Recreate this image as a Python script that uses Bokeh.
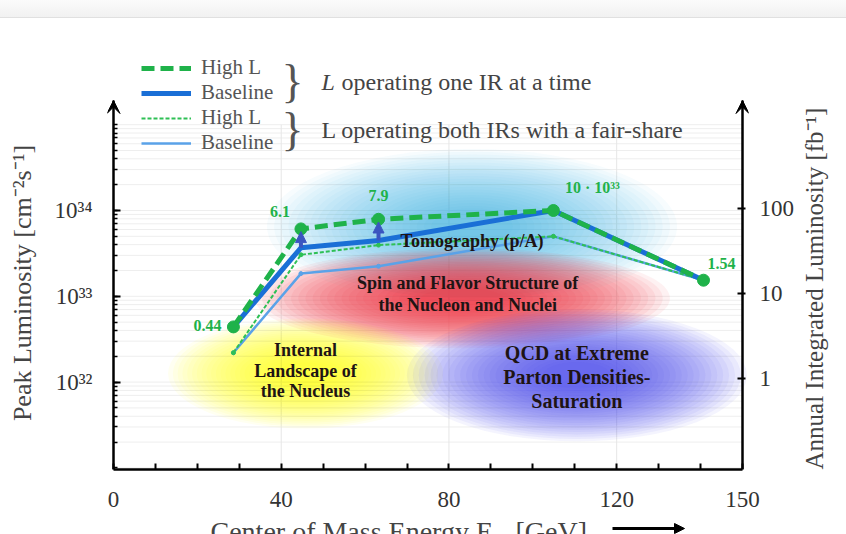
import math
from bokeh.plotting import figure
from bokeh.layouts import column
from bokeh.models import (Range1d, LogScale, LogAxis, FixedTicker, Arrow, VeeHead,
                          NormalHead, Label, LabelSet, Legend, LegendItem, Div,
                          CustomJSTickFormatter, ColumnDataSource)
from bokeh.embed import file_html
from bokeh.resources import INLINE

# ------------------------------------------------------------------ data
energy_gev = [28.6, 44.7, 63.2, 104.9, 140.7]
high_lumi_one_ir = [0.44e33, 6.1e33, 7.9e33, 10.0e33, 1.54e33]
base_lumi_one_ir = [0.44e33, 3.68e33, 4.48e33, 10.0e33, 1.54e33]
high_lumi_fair = [0.22e33, 3.05e33, 3.95e33, 5.0e33, 1.54e33]
base_lumi_fair = [0.22e33, 1.84e33, 2.24e33, 5.0e33, 1.54e33]
value_labels = ["0.44", "6.1", "7.9", "10 · 10³³", "1.54"]
value_label_dx = [-26, -21, 0, 39, 18]
value_label_dy = [1, 17, 24, 23, 17]
arrow_points = [1, 2]  # baseline -> high L arrows

x_tick_values = list(range(0, 151, 10))
x_tick_labels = [0, 40, 80, 120, 150]
x_grid_values = [40, 80, 120]
y_left_major = [1e32, 1e33, 1e34]
y_right_major = [1, 10, 100]

region_lines = [
    ["Tomography (p/A)"],
    ["Spin and Flavor Structure of", "the Nucleon and Nuclei"],
    ["Internal", "Landscape of", "the Nucleus"],
    ["QCD at Extreme", "Parton Densities-", "Saturation"],
]
region_x = [85.5, 83.2, 45.8, 110.5]
region_text_x = [85.5, 84.5, 45.8, 110.5]
region_y = [6.5e33, 0.95e33, 1.26e32, 1.2e32]
region_text_y = [4.4e33, 1.07e33, 1.36e32, 1.16e32]
region_w = [410, 415, 275, 340]
region_h = [155, 100, 110, 132]
region_colors = ["#19a8e6", "#ea3440", "#ffff10", "#3c3ce6"]
region_alpha = [0.034, 0.066, 0.06, 0.06]
region_font = ["18px", "18px", "18px", "20px"]
region_line_gap = [22, 22, 20.5, 24]

legend_labels = ["High L", "Baseline", "High L", "Baseline"]
group_labels = ["operating one IR at a time", "L operating both IRs with a fair-share"]
left_title = "Peak Luminosity [cm⁻²s⁻¹]"
right_title = "Annual Integrated Luminosity [fb⁻¹]"

# ------------------------------------------------------------------ geometry (page pixels)
PAGE_W = 846
TOP_BAR = 18
H_MAIN = 500
H_TITLE = 16
AX_L, AX_R = 113, 742          # page x of x = 0 and x = 150
FR_L, FR_R = 107, 748          # frame edges
FR_T, FR_B = TOP_BAR, 469      # frame top / bottom
PX_PER_GEV = (AX_R - AX_L) / 150.0
X_MIN = (FR_L - AX_L) / PX_PER_GEV
X_MAX = 150 + (FR_R - AX_R) / PX_PER_GEV
DEC_L, Y34 = 85.8, 210.0       # left: px per decade, page y of 1e34
DEC_R, Y100 = 85.0, 207.7      # right: px per decade, page y of 100
LOG_TOP = 34 + (Y34 - FR_T) / DEC_L
LOG_BOT = 34 - (FR_B - Y34) / DEC_L
R_LOG_TOP = 2 + (Y100 - FR_T) / DEC_R
R_LOG_BOT = 2 - (FR_B - Y100) / DEC_R
AXIS_TOP = 100                 # page y of the axis arrow tips


def dx(px):
    return (px - AX_L) / PX_PER_GEV


def dy(py):
    return 10 ** (LOG_TOP - (py - FR_T) / (FR_B - FR_T) * (LOG_TOP - LOG_BOT))


def dy_right(py):
    return 10 ** (2 + (Y100 - py) / DEC_R)


SERIF = "Liberation Serif"
GREEN = "#1fb24a"
BLUE = "#1a6fd6"
LBLUE = "#5aa2e8"
LGREEN = "#2ec055"
TXT = "#444444"
NBSP = "\u00a0"
SUP_JS = """
const sup = {'0':'⁰','1':'¹','2':'²','3':'³','4':'⁴','5':'⁵','6':'⁶','7':'⁷','8':'⁸','9':'⁹','-':'⁻'};
const e = Math.round(Math.log10(tick));
return '10' + String(e).split('').map(c => sup[c]).join('');
"""

p = figure(width=PAGE_W, height=H_MAIN, output_backend="svg", toolbar_location=None,
           title=None,
           x_range=Range1d(X_MIN, X_MAX),
           y_range=Range1d(10 ** LOG_BOT, 10 ** LOG_TOP), y_axis_type="log",
           min_border_left=FR_L, min_border_right=PAGE_W - FR_R,
           min_border_top=0, min_border_bottom=TOP_BAR + H_MAIN - FR_B)
p.outline_line_color = None
p.background_fill_color = "white"
p.border_fill_color = "white"
p.grid.visible = False

# grid lines (faint), limited to the drawn axis height like the reference
minor_y = [k * 10.0 ** e for e in range(31, 35) for k in range(1, 10)] + [1e35]
p.segment(x0=[0] * len(minor_y), y0=minor_y, x1=[150] * len(minor_y), y1=minor_y,
          line_color="#eeeeee", line_width=1)
p.segment(x0=x_grid_values, y0=[10 ** LOG_BOT] * 3, x1=x_grid_values, y1=[1e35] * 3,
          line_color="#e6e6e6", line_width=1)

# x axis
xa = p.xaxis[0]
xa.ticker = FixedTicker(ticks=x_tick_values)
xa.formatter = CustomJSTickFormatter(args=dict(show=x_tick_labels),
                                     code="return show.includes(tick) ? String(tick) : '';")
xa.bounds = (0, 150)
xa.axis_line_width = 2.5
xa.major_tick_in = 6
xa.major_tick_out = 0
xa.major_tick_line_width = 2
xa.major_label_text_font = SERIF
xa.major_label_text_font_size = "23px"
xa.major_label_text_color = "#333333"
xa.major_label_standoff = 22


def style_line_axis(ax):
    """axis drawn at a data location: line and ticks only"""
    ax.axis_line_width = 2.5
    ax.major_tick_line_width = 2
    ax.minor_tick_line_width = 1.5
    ax.major_label_text_font_size = "0px"
    ax.major_label_standoff = 0
    ax.axis_label = None


def style_label_axis(ax, standoff, label, label_standoff, font_size):
    """axis at the frame edge: tick labels and title only"""
    ax.axis_line_color = None
    ax.major_tick_line_color = None
    ax.minor_tick_line_color = None
    ax.major_tick_in = 0
    ax.major_tick_out = 0
    ax.minor_tick_in = 0
    ax.minor_tick_out = 0
    ax.major_label_text_font = SERIF
    ax.major_label_text_font_size = "23px"
    ax.major_label_text_color = "#333333"
    ax.major_label_standoff = standoff
    ax.axis_label = label
    ax.axis_label_text_font = SERIF
    ax.axis_label_text_font_size = font_size
    ax.axis_label_text_font_style = "normal"
    ax.axis_label_text_color = TXT
    ax.axis_label_standoff = label_standoff


# left: line/ticks axis at x = 0, then a label axis outside it
ya = p.yaxis[0]
ya.ticker = FixedTicker(ticks=y_left_major, minor_ticks=minor_y)
ya.formatter = CustomJSTickFormatter(code="return '';")
ya.fixed_location = 0
ya.bounds = (10 ** LOG_BOT, dy(AXIS_TOP))
style_line_axis(ya)
ya.major_tick_in = 7
ya.major_tick_out = 0
ya.minor_tick_in = 4
ya.minor_tick_out = 0

yl = LogAxis(ticker=FixedTicker(ticks=y_left_major),
             formatter=CustomJSTickFormatter(code=SUP_JS))
# trailing no-break spaces move the centred title a little lower, as in the reference
style_label_axis(yl, 15, left_title + NBSP * 12, 15, "26px")
p.add_layout(yl, "left")

# right axis (same construction)
p.extra_y_ranges = {"right": Range1d(10 ** R_LOG_BOT, 10 ** R_LOG_TOP)}
p.extra_y_scales = {"right": LogScale()}
ra = LogAxis(y_range_name="right", ticker=FixedTicker(ticks=y_right_major),
             formatter=CustomJSTickFormatter(code="return '';"))
ra.fixed_location = 150
ra.bounds = (10 ** R_LOG_BOT, dy_right(AXIS_TOP))
style_line_axis(ra)
ra.major_tick_in = 5
ra.major_tick_out = 3
ra.minor_tick_in = 0
ra.minor_tick_out = 0
p.add_layout(ra, "right")

rl = LogAxis(y_range_name="right", ticker=FixedTicker(ticks=y_right_major),
             formatter=CustomJSTickFormatter(code="return String(Math.round(tick));"))
style_label_axis(rl, 11, right_title, 17, "25px")
rl.axis_label_orientation = math.pi / 2
try:
    rl.axis_label_align = "start"
except Exception:
    pass
p.add_layout(rl, "right")

# arrow heads on the vertical axes
for xv in (0, 150):
    p.add_layout(Arrow(x_start=xv, y_start=dy(AXIS_TOP + 6), x_end=xv, y_end=dy(AXIS_TOP),
                       line_width=2.5, line_color="black",
                       end=VeeHead(size=13, line_color="black", fill_color="black")))

# ------------------------------------------------------------------ soft region blobs
n_layers = 24
bx, by, bw, bh, bc, ba = [], [], [], [], [], []
for i in range(len(region_x)):
    for k in range(n_layers):
        f = 1.0 - k * 0.8 / (n_layers - 1)
        bx.append(region_x[i]); by.append(region_y[i])
        bw.append(region_w[i] * f); bh.append(region_h[i] * f)
        bc.append(region_colors[i]); ba.append(region_alpha[i])
p.ellipse(x=bx, y=by, width=bw, height=bh, width_units="screen", height_units="screen",
          fill_color=bc, fill_alpha=ba, line_color=None)

for i, lines in enumerate(region_lines):
    n = len(lines)
    for j, t in enumerate(lines):
        p.add_layout(Label(x=region_text_x[i], y=region_text_y[i], text=t,
                           y_offset=((n - 1) / 2 - j) * region_line_gap[i],
                           text_align="center", text_baseline="middle",
                           text_font=SERIF, text_font_style="bold",
                           text_font_size=region_font[i], text_color="#1e1414"))

# ------------------------------------------------------------------ data lines
r_bf = p.line(energy_gev, base_lumi_fair, line_color=LBLUE, line_width=2.5)
p.scatter(energy_gev, base_lumi_fair, size=4, color=LBLUE)
r_hf = p.line(energy_gev, high_lumi_fair, line_color=LGREEN, line_width=2, line_dash="4 2")
p.scatter(energy_gev, high_lumi_fair, size=4, color=LGREEN)
r_bo = p.line(energy_gev, base_lumi_one_ir, line_color=BLUE, line_width=5)
r_ho = p.line(energy_gev, high_lumi_one_ir, line_color=GREEN, line_width=5, line_dash="13 6")
p.scatter(energy_gev, high_lumi_one_ir, size=12, color=GREEN)

for i in arrow_points:
    p.add_layout(Arrow(x_start=energy_gev[i], y_start=base_lumi_one_ir[i],
                       x_end=energy_gev[i], y_end=high_lumi_one_ir[i] * 0.93,
                       line_width=4, line_color="#3b55c0",
                       end=NormalHead(size=11, line_color="#3b55c0", fill_color="#3b55c0")))

src = ColumnDataSource(dict(x=energy_gev, y=high_lumi_one_ir, t=value_labels,
                            ox=value_label_dx, oy=value_label_dy))
p.add_layout(LabelSet(x="x", y="y", text="t", source=src, x_offset="ox", y_offset="oy",
                      text_align="center", text_baseline="middle",
                      text_font="Liberation Mono", text_font_style="bold",
                      text_font_size="16px", text_color=GREEN))

# ------------------------------------------------------------------ legend
legend = Legend(items=[LegendItem(label=legend_labels[0], renderers=[r_ho]),
                       LegendItem(label=legend_labels[1], renderers=[r_bo]),
                       LegendItem(label=legend_labels[2], renderers=[r_hf]),
                       LegendItem(label=legend_labels[3], renderers=[r_bf])],
                location=(141 - FR_L, FR_B - 155), orientation="vertical",
                glyph_width=50, glyph_height=24, label_height=24, spacing=0,
                padding=0, margin=0, label_standoff=10,
                border_line_color=None, background_fill_alpha=0,
                label_text_font=SERIF, label_text_font_size="21px",
                label_text_color="#555555")
p.add_layout(legend)

for yb in (81, 129):
    p.add_layout(Label(x=dx(292), y=dy(yb), text="}", text_align="center",
                       text_baseline="middle", text_font=SERIF, text_font_size="46px",
                       text_color="#555555"))
p.add_layout(Label(x=dx(321), y=dy(81), text="L", text_align="left",
                   text_baseline="middle", text_font=SERIF, text_font_size="24px",
                   text_font_style="italic", text_color=TXT))
p.add_layout(Label(x=dx(341), y=dy(81), text=group_labels[0], text_align="left",
                   text_baseline="middle", text_font=SERIF, text_font_size="24px",
                   text_color=TXT))
p.add_layout(Label(x=dx(321), y=dy(129), text=group_labels[1], text_align="left",
                   text_baseline="middle", text_font=SERIF, text_font_size="24px",
                   text_color=TXT))

# ------------------------------------------------------------------ x axis title strip
# (its frame lines up with the main frame, so it shares the x range)
y0 = TOP_BAR + H_MAIN
p2 = figure(width=PAGE_W, height=H_TITLE, output_backend="svg", toolbar_location=None,
            title=None, x_range=p.x_range, y_range=Range1d(y0 + H_TITLE, y0),
            x_axis_location=None, y_axis_location=None,
            min_border_left=FR_L, min_border_right=PAGE_W - FR_R,
            min_border_top=0, min_border_bottom=0)
p2.outline_line_color = None
p2.grid.visible = False
p2.add_layout(Label(x=dx(210), y=531, text="Center of Mass Energy E", text_align="left",
                    text_baseline="middle", text_font=SERIF, text_font_size="28px",
                    text_color=TXT))
p2.add_layout(Label(x=dx(494), y=537, text="cm", text_align="left",
                    text_baseline="middle", text_font=SERIF, text_font_size="16px",
                    text_color=TXT))
p2.add_layout(Label(x=dx(515), y=531, text="[GeV]", text_align="left",
                    text_baseline="middle", text_font=SERIF, text_font_size="28px",
                    text_color=TXT))
p2.add_layout(Arrow(x_start=dx(612), y_start=528, x_end=dx(684), y_end=528,
                    line_width=3, line_color="black",
                    end=NormalHead(size=10, line_color="black", fill_color="black")))

bar = Div(text="", width=PAGE_W, height=TOP_BAR, margin=0,
          styles={"background": "linear-gradient(#fbfbfb, #f1f1f1)",
                  "border-bottom": "1px solid #e0e0e0", "box-sizing": "border-box"})

layout = column(bar, p, p2, spacing=0)
open("out.html", "w").write(file_html(layout, INLINE))
